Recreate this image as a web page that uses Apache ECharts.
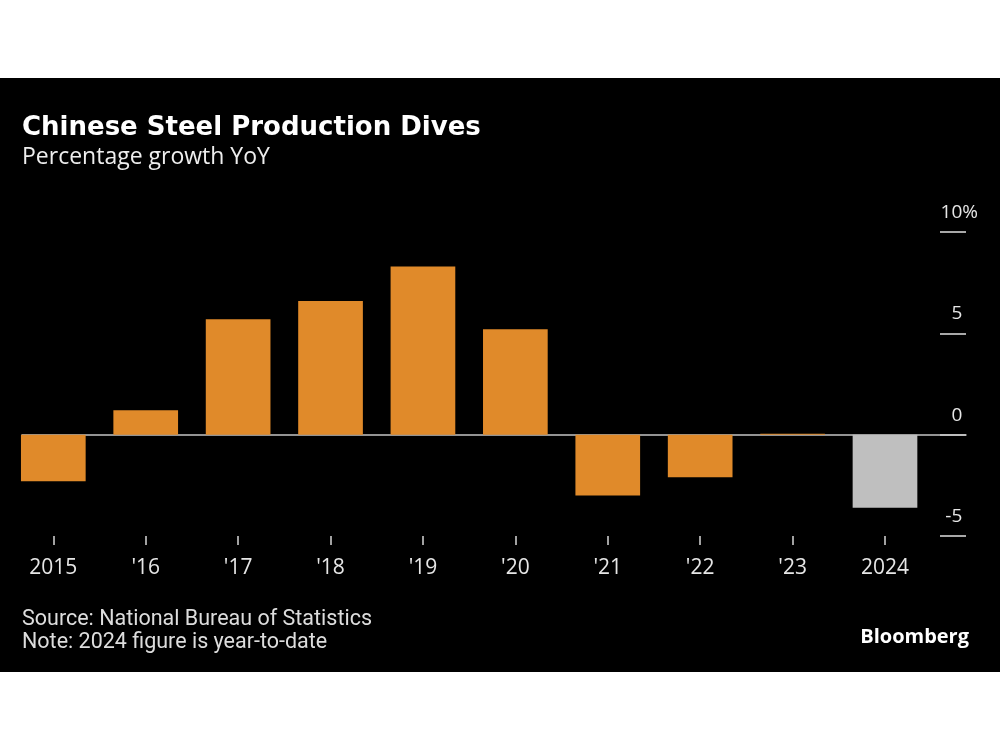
<!DOCTYPE html>
<html>
<head>
<meta charset="utf-8">
<script src="https://cdn.jsdelivr.net/npm/echarts@6/dist/echarts.min.js"></script>
<style>
  html, body { margin: 0; padding: 0; background: #fff; }
  #chart { width: 1000px; height: 750px;
    background: linear-gradient(#ffffff 0px, #ffffff 78px, #000000 78px, #000000 672px, #ffffff 672px, #ffffff 750px); }
</style>
</head>
<body>
<div id="chart"></div>
<script>
const categories = ['2015', "'16", "'17", "'18", "'19", "'20", "'21", "'22", "'23", '2024'];
const growth = [-2.3, 1.2, 5.7, 6.6, 8.3, 5.2, -3.0, -2.1, 0.0, -3.6];
const yearToDate = [false, false, false, false, false, false, false, false, false, true];
const yTicks = [-5, 0, 5, 10];

const ORANGE = '#e08a2a';
const GREY = '#bfbfbf';
const Y_MIN = -5, Y_MAX = 10, Y_STEP = 5;

const chart = echarts.init(document.getElementById('chart'), null, { renderer: 'canvas' });

const barData = growth.map((v, i) => ({
  value: v,
  itemStyle: { color: yearToDate[i] ? GREY : ORANGE }
}));

const gridTop = 232, gridBottom = 214;

const option = {
  backgroundColor: 'transparent',
  animation: false,
  title: [
    {
      text: 'Chinese Steel Production Dives',
      left: 17, top: 110,
      textStyle: { color: '#ffffff', fontFamily: 'DejaVu Sans', fontWeight: 'bold', fontSize: 26 }
    },
    {
      text: 'Percentage growth YoY',
      left: 17, top: 141,
      textStyle: { color: '#eeeeee', fontFamily: 'Open Sans', fontWeight: 'normal', fontSize: 23 }
    },
    {
      text: 'Source: National Bureau of Statistics\nNote: 2024 figure is year-to-date',
      left: 17, top: 603,
      textStyle: { color: '#dddddd', fontFamily: 'Roboto', fontWeight: 'normal', fontSize: 21.5, lineHeight: 23 }
    },
    {
      text: 'Bloomberg',
      right: 26, top: 622,
      textStyle: { color: '#ffffff', fontFamily: 'Open Sans', fontWeight: 'bold', fontSize: 20 }
    }
  ],
  grid: [
    { left: 7.1, right: 68.8, top: gridTop, bottom: gridBottom },
    { left: 22, right: 34, top: gridTop, bottom: gridBottom },
    { left: 940, right: 34, top: gridTop, bottom: gridBottom }
  ],
  xAxis: [
    {
      type: 'category', gridIndex: 0, data: categories,
      position: 'bottom',
      axisLine: { show: false, onZero: false },
      axisTick: { show: true, alignWithLabel: true, length: 9, lineStyle: { color: '#d8d8d8', width: 1.5 } },
      axisLabel: { color: '#e6e6e6', fontFamily: 'Open Sans', fontSize: 21, margin: 22 },
      splitLine: { show: false }
    },
    {
      type: 'value', gridIndex: 1, min: 0, max: 1,
      axisLine: { show: true, onZero: true, lineStyle: { color: '#c4c4c4', width: 1.5 } },
      axisTick: { show: false },
      axisLabel: { show: false },
      splitLine: { show: false }
    },
    {
      type: 'value', gridIndex: 2, min: 0, max: 1, show: false
    }
  ],
  yAxis: [
    { type: 'value', gridIndex: 0, min: Y_MIN, max: Y_MAX, interval: Y_STEP, show: false },
    {
      type: 'value', gridIndex: 1, min: Y_MIN, max: Y_MAX, interval: Y_STEP,
      axisLine: { show: false }, axisTick: { show: false }, axisLabel: { show: false }, splitLine: { show: false }
    },
    {
      type: 'value', gridIndex: 2, min: Y_MIN, max: Y_MAX, interval: Y_STEP,
      position: 'right',
      axisLine: { show: false },
      axisTick: { show: false },
      splitLine: { show: true, lineStyle: { color: '#e0e0e0', width: 1.5 } },
      axisLabel: {
        margin: 12, align: 'right', color: '#e6e6e6', fontFamily: 'Open Sans', fontSize: 19,
        verticalAlign: 'bottom', padding: [0, 0, 10, 0],
        formatter: function (v) { return v === yTicks[yTicks.length - 1] ? v + '%' : v + '{h|%}'; },
        rich: { h: { color: 'transparent', fontFamily: 'Open Sans', fontSize: 19 } }
      }
    }
  ],
  series: [
    {
      type: 'bar', xAxisIndex: 0, yAxisIndex: 0,
      data: barData,
      barWidth: '70%',
      barMinHeight: 1,
      z: 3
    }
  ]
};

chart.setOption(option);
</script>
</body>
</html>
